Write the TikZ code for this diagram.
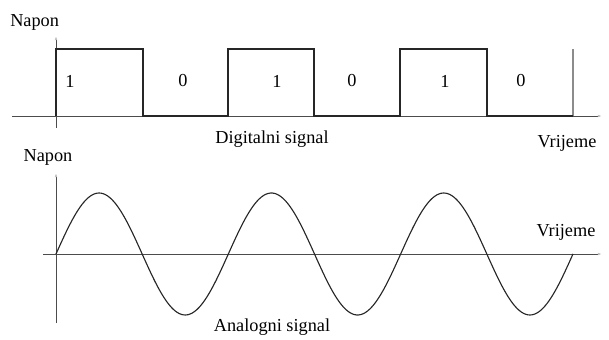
\documentclass[tikz,border=0pt]{standalone}
\usepackage{fontspec}
\setmainfont{Liberation Serif}
\usetikzlibrary{arrows.meta, positioning}

\begin{document}
\begin{tikzpicture}[x=0.025cm, y=-0.025cm, >=Latex,
    font=\fontsize{13}{15}\selectfont,
    axis/.style={draw=black!70, line width=0.6pt,
        -{Latex[length=3pt, width=2pt, color=black!25]}},
    sig/.style={draw=black!85, line width=0.8pt},
    lbl/.style={inner sep=0pt}]

    \useasboundingbox (0,0) rectangle (609,340);

    % 1. Digital signal axes
    \draw[axis] (12,116) -- (602,116);
    \draw[axis] (56,128) -- (56,36);
    \draw[draw=black!45, line width=0.8pt] (573,116) -- (573,49);

    % 2. Pulse train
    \draw[sig] (56,116) -- (56,49) -- (143,49) -- (143,116) -- (228,116)
        -- (228,49) -- (314,49) -- (314,116) -- (400,116)
        -- (400,49) -- (487,49) -- (487,116) -- (573,116);

    % Bit values
    \foreach \xb/\bit [count=\i] in {70/1, 183/0, 277/1, 352/0, 445/1, 521/0} {
        \node[lbl] (bit\i) at (\xb,81) {\bit};
    }

    % Labels of the digital plot
    \node[lbl, anchor=west] (naponD) at (10,22) {Napon};
    \node[lbl] (digital) at (272,139) {Digitalni signal};
    \node[lbl] (vrijemeD) at (567,143) {Vrijeme};

    % 3. Analog signal axes
    \draw[axis] (43,254) -- (602,254);
    \draw[axis] (56,323) -- (56,173);

    % 4. Sine wave
    \draw[sig] plot[domain=56:573, samples=240, smooth]
        (\x, {254-61*sin((\x-56)/172.33*360)});

    % Labels of the analog plot
    \node[lbl] (naponA) at (48,157) {Napon};
    \node[lbl] (vrijemeA) at (566,232) {Vrijeme};
    \node[lbl] (analog) at (272,327) {Analogni signal};

\end{tikzpicture}
\end{document}
